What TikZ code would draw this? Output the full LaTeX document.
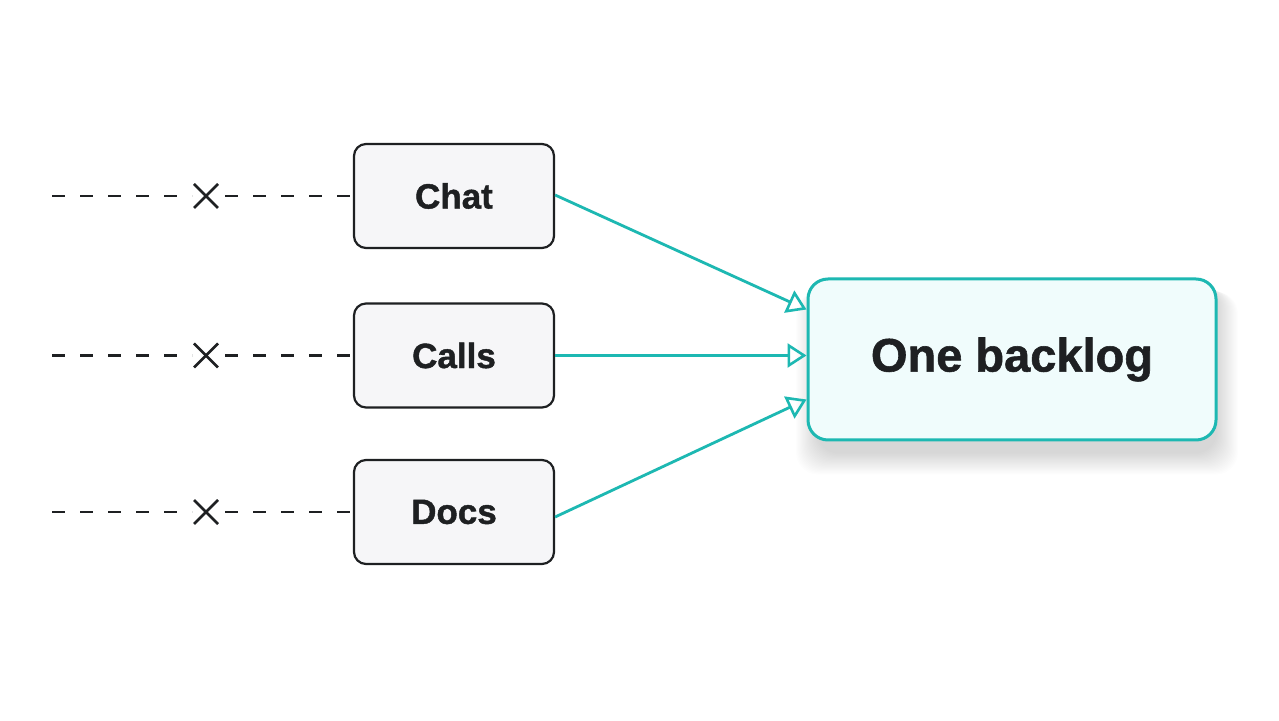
\documentclass[tikz,border=0pt]{standalone}
\usepackage{fontspec}
\setmainfont{Liberation Sans}
\newfontfamily\heavyfont[FakeBold=1.2]{Liberation Sans Bold}
\usetikzlibrary{arrows.meta}
\definecolor{teal1}{HTML}{1DB8B2}
\definecolor{tealfill}{HTML}{F0FCFC}
\definecolor{ink}{HTML}{1E2022}
\definecolor{boxfill}{HTML}{F6F6F8}
\begin{document}
\begin{tikzpicture}[x=1pt,y=1pt,
  srcbox/.style={draw=ink, line width=2.2pt, fill=boxfill, rounded corners=12pt,
    minimum width=200pt, minimum height=104pt, inner sep=0pt,
    font=\fontsize{35}{40}\heavyfont, text=ink},
  bigbox/.style={draw=teal1, line width=3pt, fill=tealfill, rounded corners=20pt,
    minimum width=408pt, minimum height=161pt, inner sep=0pt,
    font=\fontsize{47}{52}\heavyfont, text=ink},
  flow/.style={draw=teal1, line width=2.8pt, -{Triangle[open, length=19pt, width=24pt, line width=2.6pt]}},
  cut/.style={draw=ink, line width=2.2pt, dash pattern=on 13pt off 15pt},
  crossline/.style={draw=ink, line width=2.6pt}]
\useasboundingbox (0,0) rectangle (1279,720);
\fill[white] (0,0) rectangle (1279,720);

% soft shadow of the big box
\foreach \g in {1,...,20}{
  \fill[black, opacity=0.007, rounded corners=22pt]
    (814-\g*1.1+4, 279.5-12-\g*1.1) rectangle (1212+\g*1.1+4, 436-\g*0.4);
}

\node[srcbox] (chat) at (454,524) {Chat};
\node[srcbox] (calls) at (454,364.5) {Calls};
\node[srcbox] (docs) at (454,208) {Docs};
\node[bigbox] (big) at (1012,360.5) {One backlog};

\foreach \n/\yy in {chat/524, calls/364.5, docs/208}{
  \coordinate (\n-start) at (52,\yy);
  \coordinate (\n-x) at (206,\yy);
  \draw[cut] (\n-start) -- ([xshift=-14pt]\n-x);
  \draw[cut] ([xshift=19pt]\n-x) -- (\n.west);
  \draw[crossline] ([shift={(-12pt,-12pt)}]\n-x) -- ([shift={(12pt,12pt)}]\n-x);
  \draw[crossline] ([shift={(-12pt,12pt)}]\n-x) -- ([shift={(12pt,-12pt)}]\n-x);
}

\draw[flow] ([yshift=1pt]chat.east) -- ([yshift=50pt]big.west);
\draw[flow] (calls.east) -- ([yshift=4pt]big.west);
\draw[flow] ([yshift=-5pt]docs.east) -- ([yshift=-40pt]big.west);
\end{tikzpicture}
\end{document}
